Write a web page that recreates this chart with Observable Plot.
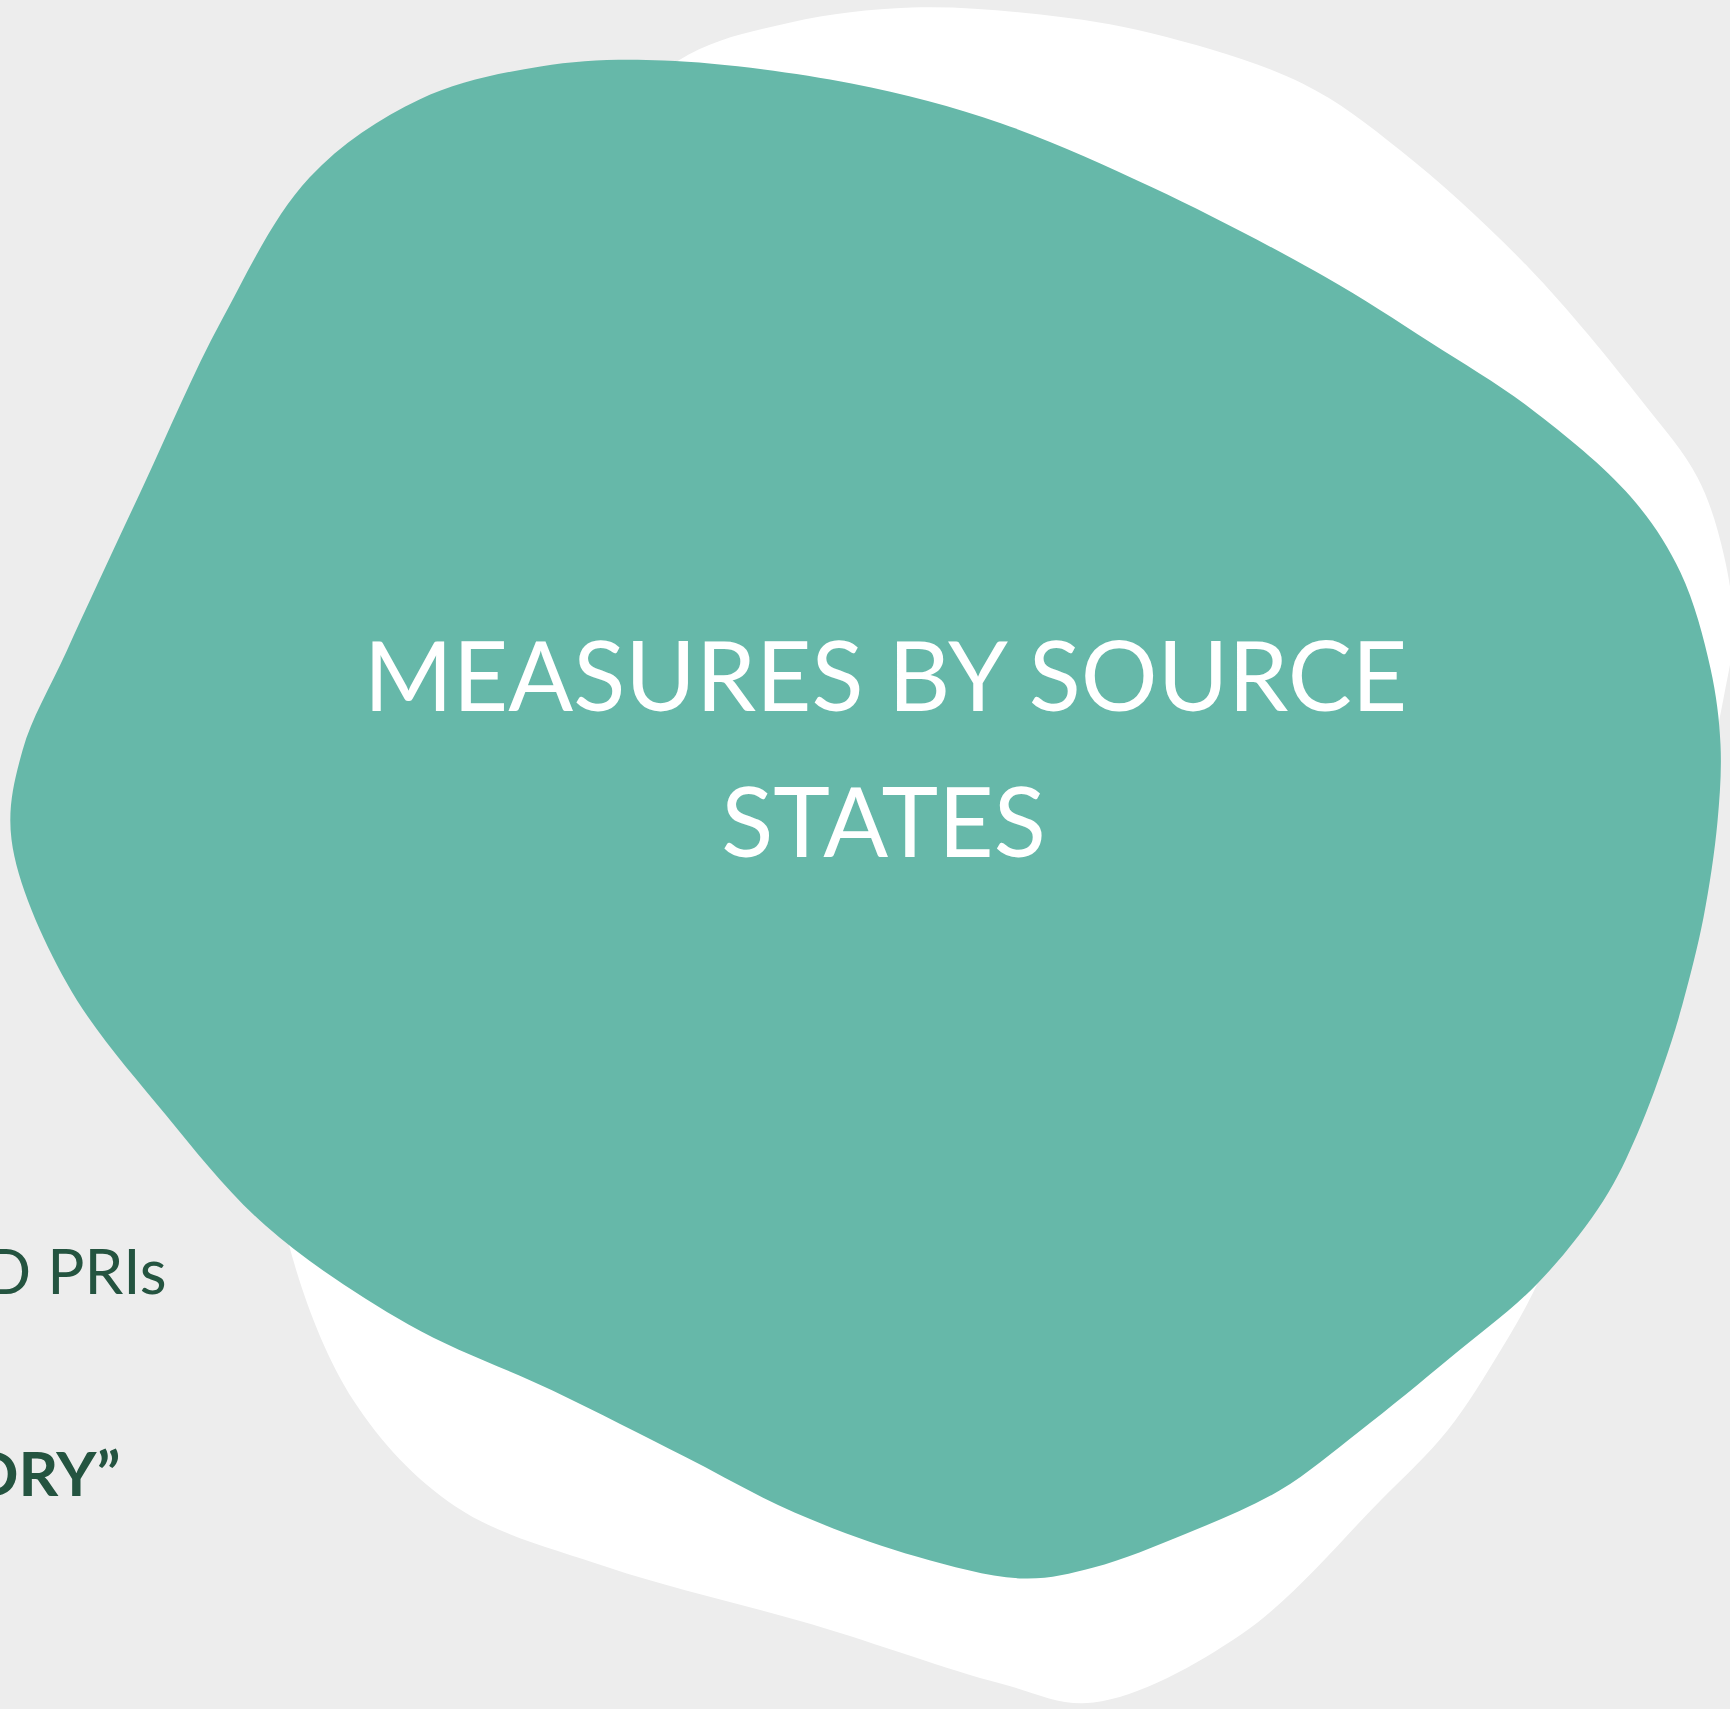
<!DOCTYPE html>
<html>
<head>
<meta charset="utf-8">
<script src="https://cdn.jsdelivr.net/npm/d3@7"></script>
<script src="https://cdn.jsdelivr.net/npm/@observablehq/plot@0.6"></script>
<style>
  html, body { margin: 0; padding: 0; background: #EDEDED; overflow: hidden; }
  #chart svg { display: block; background: #EDEDED; }
</style>
</head>
<body>
<div id="chart"></div>
<script>
// Outline of the white backdrop shape (slide pixel coordinates)
const whiteBlob = [
  [560, 180], [678, 60], [790, 22], [911, 7], [1040, 14], [1152, 33], [1302, 83],
  [1400, 150], [1528, 267], [1641, 400], [1697, 477], [1723, 553], [1733, 630],
  [1723, 698], [1700, 800], [1650, 980], [1590, 1150], [1537, 1283], [1500, 1350],
  [1447, 1430], [1380, 1500], [1242, 1633], [1093, 1702], [1000, 1683], [812, 1624],
  [608, 1567], [455, 1506], [353, 1400], [287, 1239], [270, 1100], [330, 800], [450, 450]
];
// Outline of the teal foreground shape
const tealBlob = [
  [663, 60], [851, 83], [1001, 123], [1152, 187], [1324, 276], [1430, 342], [1530, 408],
  [1630, 496], [1680, 572], [1710, 668], [1720, 744], [1717, 821], [1703, 917],
  [1683, 1000], [1668, 1050], [1637, 1133], [1603, 1200], [1537, 1283], [1450, 1357],
  [1360, 1430], [1279, 1490], [1186, 1533], [1093, 1567], [1023, 1578], [916, 1556],
  [794, 1512], [684, 1456], [552, 1390], [408, 1324], [265, 1225], [165, 1114],
  [66, 982], [11, 839], [22, 750], [66, 651], [143, 485], [221, 320], [309, 177],
  [419, 99], [540, 66]
];
// Title lines
const titleLines = ["MEASURES BY SOURCE", "STATES"];
const titleX = [885, 883];
const titleY = [710, 856];
// Cut-off text from the neighbouring slide
const sideTexts = ["AND PRIs", "“SUCCESS STORY”"];
const sideX = [166, 120];
const sideY = [1293, 1495];
const sideWeight = ["normal", "bold"];

const titleData = titleLines.map((t, i) => ({t, x: titleX[i], y: titleY[i]}));
const sideData = sideTexts.map((t, i) => ({t, x: sideX[i], y: sideY[i], w: sideWeight[i]}));

const plot = Plot.plot({
  width: 1730,
  height: 1709,
  margin: 0,
  x: {domain: [0, 1730], axis: null},
  y: {domain: [1709, 0], axis: null},
  style: {background: "#EDEDED", overflow: "hidden"},
  marks: [
    Plot.line(whiteBlob, {x: d => d[0], y: d => d[1], curve: "catmull-rom-closed", fill: "#FFFFFF", stroke: "none"}),
    Plot.line(tealBlob, {x: d => d[0], y: d => d[1], curve: "catmull-rom-closed", fill: "#66B8A9", stroke: "none"}),
    Plot.text(titleData, {x: "x", y: "y", text: "t", fill: "#FFFFFF", fontSize: 96, fontFamily: "Lato", textAnchor: "middle", lineAnchor: "bottom"}),
    Plot.text(sideData.filter(d => d.w === "normal"), {x: "x", y: "y", text: "t", fill: "#245440", fontSize: 62, fontFamily: "Lato", textAnchor: "end", lineAnchor: "bottom"}),
    Plot.text(sideData.filter(d => d.w === "bold"), {x: "x", y: "y", text: "t", fill: "#245440", fontSize: 62, fontWeight: "bold", fontFamily: "Lato", textAnchor: "end", lineAnchor: "bottom", letterSpacing: 2})
  ]
});
document.getElementById("chart").appendChild(plot);
</script>
</body>
</html>
